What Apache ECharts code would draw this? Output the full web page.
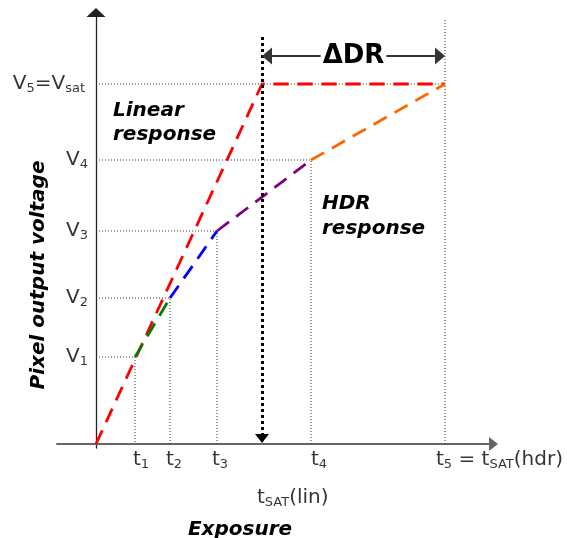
<!DOCTYPE html>
<html><head><meta charset="utf-8">
<script src="https://cdn.jsdelivr.net/npm/echarts@6/dist/echarts.min.js"></script>
<style>html,body{margin:0;padding:0;background:#fff}#c{width:567px;height:538px}</style>
</head><body><div id="c"></div>
<script>
// ---- data (arbitrary exposure / voltage units) ----
const exposureTicks = [3.9, 7.4, 12.1, 21.5, 34.9];          // t1 .. t5 (t5 = tSAT(hdr))
const tSatLin = 16.6;                                        // tSAT(lin)
const voltageTicks = [8.7, 14.6, 21.3, 28.4, 36.0];          // V1 .. V5 (V5 = Vsat)
const xTickLabels = ['{n|t}{s|1}', '{n|t}{s|2}', '{n|t}{s|3}', '{n|t}{s|4}', '{n|t}{s|5}{n| = t}{s|SAT}{n|(hdr)}'];
const tSatLinLabel = '{n|t}{s|SAT}{n|(lin)}';
const yTickLabels = ['{n|V}{s|1}', '{n|V}{s|2}', '{n|V}{s|3}', '{n|V}{s|4}', '{n|V}{s|5}{n|=V}{s|sat}'];
const segmentColors = ['#008000', '#0000ff', '#800080', '#ff6600'];
const linearColor = '#ff0000';
const guideTop = 42.6;      // top of the t5 guide
const satArrowTop = 40.7;   // top of the tSAT(lin) marker
const deltaDRLevel = 38.8;  // level of the ΔDR arrow

// ---- styles ----
const FONT = 'DejaVu Sans';
const rich = {
  n: { fontFamily: FONT, fontSize: 20, lineHeight: 22, color: '#000' },
  s: { fontFamily: FONT, fontSize: 13, lineHeight: 13, color: '#000', verticalAlign: 'bottom' }
};
const dashed = c => ({ color: c, width: 2.8, type: [15, 9], cap: 'butt' });
const dotted = { color: '#333', width: 1, type: [1, 2] };
const tickDx = [-2, -4, -5, 0, -9];
const vLabelDx = [0, 0, 0, 0, -3];

const t = exposureTicks, V = voltageTicks, n = t.length;
const series = [];

// guide lines
for (let i = 0; i < n; i++) {
  series.push({ type: 'line', data: [[0, V[i]], [t[i], V[i]], [t[i], 0]], showSymbol: false,
    lineStyle: dotted, silent: true, z: 1 });
}
series.push({ type: 'line', data: [[t[n - 1], V[n - 1]], [t[n - 1], guideTop]], showSymbol: false,
  lineStyle: dotted, silent: true, z: 1,
  markLine: {
    silent: true, animation: false,
    data: [
      [{ coord: [tSatLin, satArrowTop], symbol: 'none' },
       { coord: [tSatLin, 0.55], symbol: 'triangle', symbolSize: [14, 9] }],
    ],
    lineStyle: { color: '#000', width: 3, type: [3, 3] },
    label: { show: false }
  }
});
series.push({ type: 'line', data: [], showSymbol: false, silent: true,
  markLine: {
    silent: true, animation: false, symbol: ['triangle', 'triangle'], symbolSize: [17, 10],
    data: [[{ coord: [tSatLin + 0.5, deltaDRLevel] }, { coord: [t[n - 1] - 0.5, deltaDRLevel] }]],
    lineStyle: { color: '#333', width: 2, type: 'solid' },
    label: { show: true, position: 'middle', distance: 0, verticalAlign: 'middle', formatter: 'ΔDR',
      fontFamily: FONT, fontWeight: 'bold', fontSize: 26, color: '#000', backgroundColor: '#fff', padding: [0, 2] }
  }
});

// linear response
series.push({ type: 'line', data: [[0, 0], [tSatLin, V[n - 1]], [t[n - 1], V[n - 1]]], showSymbol: false,
  lineStyle: dashed(linearColor), silent: true, z: 3 });
// HDR segments
for (let i = 0; i < n - 1; i++) {
  series.push({ type: 'line', data: [[t[i], V[i]], [t[i + 1], V[i + 1]]], showSymbol: false,
    lineStyle: dashed(segmentColors[i]), silent: true, z: 4 });
}
// exposure tick labels
series.push({ type: 'scatter', symbolSize: 0, clip: false, silent: true,
  data: t.map((v, i) => ({ value: [v, 0], label: { formatter: xTickLabels[i], offset: [tickDx[i], 0] } }))
    .concat([{ value: [tSatLin, 0], label: { formatter: tSatLinLabel, offset: [-5, 38] } }]),
  label: { show: true, position: 'bottom', distance: 5, align: 'left', rich }
});
// voltage tick labels
series.push({ type: 'scatter', symbolSize: 0, clip: false, silent: true,
  data: V.map((v, i) => ({ value: [0, v], label: { formatter: yTickLabels[i], offset: [vLabelDx[i], 0] } })),
  label: { show: true, position: 'left', distance: 8, align: 'right', verticalAlign: 'middle', rich }
});

const chart = echarts.init(document.getElementById('c'));
chart.setOption({
  animation: false,
  backgroundColor: '#fff',
  grid: { left: 57, right: 73.5, top: 12.5, bottom: 90, containLabel: false, outerBoundsMode: 'none' },
  xAxis: { type: 'value', min: -3.9, max: 39.75,
    axisLine: { onZero: true, symbol: ['none', 'triangle'], symbolSize: [14, 9], lineStyle: { color: '#666', width: 2 } },
    axisTick: { show: false }, axisLabel: { show: false }, splitLine: { show: false } },
  yAxis: { type: 'value', min: -0.4, max: 43.15,
    axisLine: { onZero: true, symbol: ['none', 'triangle'], symbolSize: [19, 9], lineStyle: { color: '#222', width: 1.3 } },
    axisTick: { show: false }, splitLine: { show: false }, axisLabel: { show: false } },
  graphic: [
    { type: 'text', x: 113, y: 99, style: { text: 'Linear\nresponse', font: 'italic bold 20px "DejaVu Sans"',
      fill: '#000', lineHeight: 24, textAlign: 'left', textVerticalAlign: 'top' } },
    { type: 'text', x: 322, y: 191, style: { text: 'HDR\nresponse', font: 'italic bold 20px "DejaVu Sans"',
      fill: '#000', lineHeight: 25, textAlign: 'left', textVerticalAlign: 'top' } },
    { type: 'text', x: 39, y: 275, rotation: Math.PI / 2, style: { text: 'Pixel output voltage',
      font: 'italic bold 20px "DejaVu Sans"', fill: '#000', textAlign: 'center', textVerticalAlign: 'middle' } },
    { type: 'text', x: 240, y: 530, style: { text: 'Exposure', font: 'italic bold 20px "DejaVu Sans"',
      fill: '#000', textAlign: 'center', textVerticalAlign: 'middle' } }
  ],
  series
});
</script></body></html>
